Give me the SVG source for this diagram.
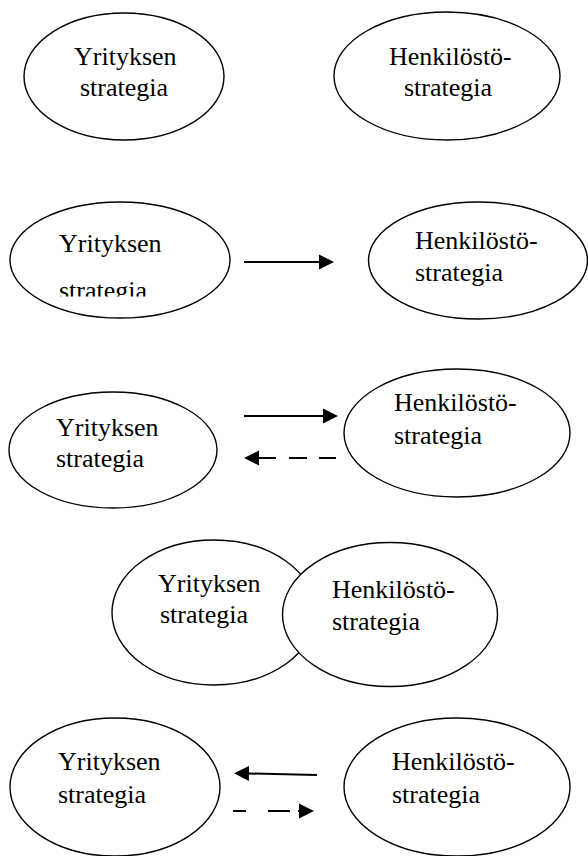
<svg xmlns="http://www.w3.org/2000/svg" width="588" height="856" viewBox="0 0 588 856">
  <style>
    .node ellipse { fill: #ffffff; stroke: #000000; stroke-width: 1.4; }
    .node text { font-family: "Liberation Serif", "Times New Roman", serif; font-size: 26px; fill: #000000; }
    .link { fill: none; stroke: #000000; stroke-width: 2; }
    .head { marker-end: url(#arrowhead); }
  </style>
  <defs>
    <marker id="arrowhead" markerUnits="userSpaceOnUse" markerWidth="16" markerHeight="16" refX="0" refY="7.5" orient="auto" viewBox="0 0 16 15">
      <path d="M0,0 L15,7.5 L0,15 z" fill="#000000"/>
    </marker>
    <!-- text frame of the second-row company ellipse cuts its last line -->
    <clipPath id="textbox-clip">
      <rect x="0" y="200" width="240" height="96.5"/>
    </clipPath>
  </defs>

  <rect width="588" height="856" fill="#ffffff"/>

  <!-- Row 1: two separate strategies -->
  <g id="yritys-1" class="node">
    <ellipse cx="124" cy="76.5" rx="100" ry="63.5"/>
    <text x="74" y="65">Yrityksen</text>
    <text x="80" y="96">strategia</text>
  </g>
  <g id="henkilosto-1" class="node">
    <ellipse cx="447" cy="76" rx="113" ry="64"/>
    <text x="389" y="65">Henkilöstö-</text>
    <text x="404" y="96">strategia</text>
  </g>

  <!-- Row 2: one-way link -->
  <g id="yritys-2" class="node">
    <ellipse cx="120" cy="260" rx="110" ry="58"/>
    <g clip-path="url(#textbox-clip)">
      <text x="59" y="252">Yrityksen</text>
      <text x="59" y="299">strategia</text>
    </g>
  </g>
  <g id="henkilosto-2" class="node">
    <ellipse cx="478" cy="260.5" rx="109.5" ry="58.5"/>
    <text x="415" y="249">Henkilöstö-</text>
    <text x="415" y="281">strategia</text>
  </g>

  <!-- Row 3: two-way link with dashed feedback -->
  <g id="yritys-3" class="node">
    <ellipse cx="113" cy="450" rx="104" ry="58"/>
    <text x="56" y="436">Yrityksen</text>
    <text x="56" y="467">strategia</text>
  </g>
  <g id="henkilosto-3" class="node">
    <ellipse cx="457" cy="433" rx="113" ry="64"/>
    <text x="394" y="411">Henkilöstö-</text>
    <text x="394" y="444">strategia</text>
  </g>

  <!-- Row 4: overlapping strategies -->
  <g id="yritys-4" class="node">
    <ellipse cx="214" cy="612.5" rx="102" ry="72.5"/>
    <text x="158" y="592">Yrityksen</text>
    <text x="160" y="623">strategia</text>
  </g>
  <g id="henkilosto-4" class="node">
    <ellipse cx="390" cy="614.5" rx="107.5" ry="72"/>
    <text x="332" y="598">Henkilöstö-</text>
    <text x="332" y="630">strategia</text>
  </g>

  <!-- Row 5: reversed link -->
  <g id="yritys-5" class="node">
    <ellipse cx="115" cy="787" rx="105" ry="69"/>
    <text x="58" y="770">Yrityksen</text>
    <text x="58" y="803">strategia</text>
  </g>
  <g id="henkilosto-5" class="node">
    <ellipse cx="457" cy="787" rx="113" ry="69"/>
    <text x="392" y="770">Henkilöstö-</text>
    <text x="392" y="803">strategia</text>
  </g>

  <!-- Connectors -->
  <g id="connectors">
    <path class="link head" d="M244,262 H319"/>
    <path class="link head" d="M244,416 H323"/>
    <path class="link head" d="M336,458 H319 M307,458 H289 M276,458 H259"/>
    <path class="link head" d="M317,775 L249,773.5"/>
    <path class="link head" d="M233,811 H246 M268,811 H290 M298,811 H299"/>
  </g>
</svg>
